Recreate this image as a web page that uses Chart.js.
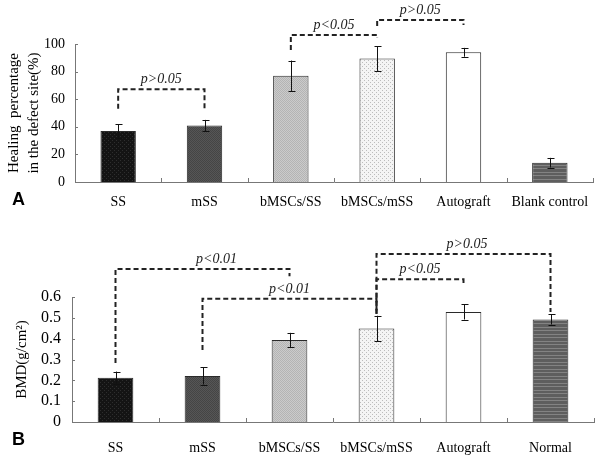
<!DOCTYPE html>
<html>
<head>
<meta charset="utf-8">
<script src="https://cdn.jsdelivr.net/npm/chart.js@4.4.1/dist/chart.umd.min.js"></script>
<style>
  body { margin: 0; background: #fff; }
  .panel { position: absolute; left: 0; width: 600px; }
  #panelA { top: 0; height: 218px; }
  #panelB { top: 218px; height: 240px; }
</style>
</head>
<body>
<div class="panel" id="panelA"><canvas id="chartA" width="600" height="218"></canvas></div>
<div class="panel" id="panelB"><canvas id="chartB" width="600" height="240"></canvas></div>
<script>
// panel A: healing percentage
const categoriesA = ["SS", "mSS", "bMSCs/SS", "bMSCs/mSS", "Autograft", "Blank control"];
const healingMean = [37, 41, 77, 89.5, 94, 14];
const healingErr = [4.8, 4, 11, 9, 3.2, 3.5];
const ticksA = ["0", "20", "40", "60", "80", "100"];

// panel B: BMD
const categoriesB = ["SS", "mSS", "bMSCs/SS", "bMSCs/mSS", "Autograft", "Normal"];
const bmdMean = [0.212, 0.221, 0.394, 0.449, 0.528, 0.492];
const bmdErr = [0.03, 0.041, 0.034, 0.061, 0.036, 0.024];
const ticksB = ["0", "0.1", "0.2", "0.3", "0.4", "0.5", "0.6"];

// significance brackets: category indexes, bracket level and where each leg stops (data units)
const bracketsA = [
    { from: 0, to: 1, level: 67.2, leftEnd: 53, rightEnd: 53, label: "p>0.05", shift: 0 },
    { from: 2, to: 3, level: 106.5, leftEnd: 95.6, rightEnd: 104.3, label: "p<0.05", shift: 0 },
    { from: 3, to: 4, level: 117.4, leftEnd: 113, rightEnd: 113.8, label: "p>0.05", shift: 0 }
];
const bracketsB = [
    { from: 0, to: 2, level: 0.734, leftEnd: 0.283, rightEnd: 0.70, label: "p<0.01", shift: 0.16 },
    { from: 1, to: 3, level: 0.592, leftEnd: 0.346, rightEnd: 0.52, label: "p<0.01", shift: 0 },
    { from: 3, to: 4, level: 0.685, leftEnd: 0.52, rightEnd: 0.656, label: "p<0.05", shift: 0 },
    { from: 3, to: 5, level: 0.807, leftEnd: 0.52, rightEnd: 0.528, label: "p>0.05", shift: 0.04 }
];

const serif = "'Liberation Serif', 'Times New Roman', serif";

function pattern(bg, fg, kind) {
    let c = document.createElement("canvas");
    c.width = 4;
    c.height = kind === "stripes" ? 7 : 4;
    let g = c.getContext("2d");
    g.fillStyle = bg;
    g.fillRect(0, 0, c.width, c.height);
    g.fillStyle = fg;
    if (kind === "checker") {
        for (let y = 0; y < 4; y++)
            for (let x = 0; x < 4; x++)
                if ((x + y) % 2 === 0) g.fillRect(x, y, 1, 1);
    } else if (kind === "dots") {
        g.fillRect(0, 0, 1, 1);
        g.fillRect(2, 2, 1, 1);
    } else if (kind === "stripes") {
        g.fillRect(0, 0, 4, 1);
        g.fillRect(0, 4, 4, 1);
    }
    return g.createPattern(c, "repeat");
}

const fillSS = pattern("#141414", "#2e2e2e", "dots");
const fillMSS = pattern("#565656", "#454545", "checker");
const fillBSS = pattern("#cbcbcb", "#b4b4b4", "checker");
const fillBMSS = pattern("#f4f4f4", "#bcbcbc", "dots");
const fillStripes = pattern("#5e5e5e", "#838383", "stripes");
const barFills = [fillSS, fillMSS, fillBSS, fillBMSS, "#ffffff", fillStripes];

// draws error bars, inward tick marks, brackets and the panel letter
function extrasPlugin(errors, brackets, letter) {
    return {
        id: "extras",
        afterDraw(chart) {
            let ctx = chart.ctx;
            let x = chart.scales.x;
            let y = chart.scales.y;
            let meta = chart.getDatasetMeta(0);
            let values = chart.data.datasets[0].data;
            ctx.save();

            // tick marks pointing into the plot
            ctx.strokeStyle = "#777";
            ctx.lineWidth = 1;
            ctx.beginPath();
            y.ticks.forEach((t, i) => {
                let py = Math.round(y.getPixelForTick(i)) + 0.5;
                ctx.moveTo(x.left, py);
                ctx.lineTo(x.left + 3, py);
            });
            let step = (x.right - x.left) / values.length;
            for (let i = 1; i <= values.length; i++) {
                let px = Math.round(x.left + i * step) + 0.5;
                ctx.moveTo(px, y.bottom);
                ctx.lineTo(px, y.bottom - 4);
            }
            ctx.stroke();

            // error bars
            ctx.strokeStyle = "#111";
            ctx.beginPath();
            meta.data.forEach((bar, i) => {
                let px = Math.round(bar.x) + 0.5;
                let top = y.getPixelForValue(values[i] + errors[i]);
                let bot = y.getPixelForValue(values[i] - errors[i]);
                ctx.moveTo(px, top);
                ctx.lineTo(px, bot);
                ctx.moveTo(px - 3, Math.round(top) + 0.5);
                ctx.lineTo(px + 4, Math.round(top) + 0.5);
                ctx.moveTo(px - 3, Math.round(bot) + 0.5);
                ctx.lineTo(px + 4, Math.round(bot) + 0.5);
            });
            ctx.stroke();

            // brackets
            ctx.setLineDash([5, 3]);
            ctx.lineWidth = 2;
            ctx.strokeStyle = "#222";
            ctx.fillStyle = "#222";
            ctx.font = "italic 14px " + serif;
            ctx.textAlign = "center";
            ctx.textBaseline = "alphabetic";
            brackets.forEach(b => {
                let x1 = meta.data[b.from].x;
                let x2 = meta.data[b.to].x;
                let py = y.getPixelForValue(b.level);
                ctx.beginPath();
                ctx.moveTo(x1, y.getPixelForValue(b.leftEnd));
                ctx.lineTo(x1, py);
                ctx.lineTo(x2, py);
                ctx.lineTo(x2, y.getPixelForValue(b.rightEnd));
                ctx.stroke();
                ctx.fillText(b.label, (x1 + x2) / 2 + b.shift * step, py - 6);
            });
            ctx.setLineDash([]);

            ctx.font = "bold 18px 'Liberation Sans', Arial, sans-serif";
            ctx.fillStyle = "#000";
            ctx.textAlign = "left";
            ctx.textBaseline = "middle";
            ctx.fillText(letter, 12, y.bottom + 18);
            ctx.restore();
        }
    };
}

function makeChart(id, labels, values, errors, brackets, tickLabels, opts) {
    return new Chart(document.getElementById(id).getContext("2d"), {
        type: "bar",
        data: {
            labels: labels,
            datasets: [{
                data: values,
                backgroundColor: barFills,
                borderColor: "#2a2a2a",
                borderWidth: 1,
                categoryPercentage: 1,
                barPercentage: 0.41
            }]
        },
        options: {
            responsive: false,
            animation: false,
            layout: { padding: opts.padding },
            plugins: {
                legend: { display: false },
                tooltip: { enabled: false }
            },
            scales: {
                x: {
                    grid: { display: false },
                    border: { display: true, color: "#777" },
                    ticks: { color: "#000", font: { family: serif, size: 14 }, padding: opts.xPad, maxRotation: 0 },
                    afterFit: s => { s.height = opts.xHeight; }
                },
                y: {
                    min: 0,
                    max: opts.max,
                    grid: { display: false, drawTicks: false },
                    border: { display: true, color: "#777" },
                    ticks: {
                        stepSize: opts.step,
                        autoSkip: false,
                        color: "#000",
                        font: { family: serif, size: opts.tickSize },
                        padding: opts.yPad,
                        callback: (v, i) => tickLabels[i]
                    },
                    title: {
                        display: true,
                        text: opts.title,
                        color: "#000",
                        font: { family: serif, size: opts.titleSize, lineHeight: 1.35 },
                        padding: { top: opts.titlePad, bottom: 0 }
                    },
                    afterFit: s => { s.width = opts.yWidth; }
                }
            }
        },
        plugins: [extrasPlugin(errors, brackets, opts.letter)]
    });
}

let chartA = makeChart("chartA", categoriesA, healingMean, healingErr, bracketsA, ticksA, {
    padding: { top: 44, right: 7, bottom: 0, left: 0 },
    max: 100, step: 20, tickSize: 14, yPad: 10, xPad: 4, xHeight: 36, yWidth: 75,
    title: ["Healing  percentage", "in the defect site(%)"], titleSize: 15, titlePad: 4, letter: "A"
});

let chartB = makeChart("chartB", categoriesB, bmdMean, bmdErr, bracketsB, ticksB, {
    padding: { top: 79, right: 6, bottom: 0, left: 0 },
    max: 0.6, step: 0.1, tickSize: 16, yPad: 11, xPad: 10, xHeight: 36, yWidth: 72,
    title: "BMD(g/cm\u00B2)", titleSize: 15, titlePad: 12, letter: "B"
});
</script>
</body>
</html>
